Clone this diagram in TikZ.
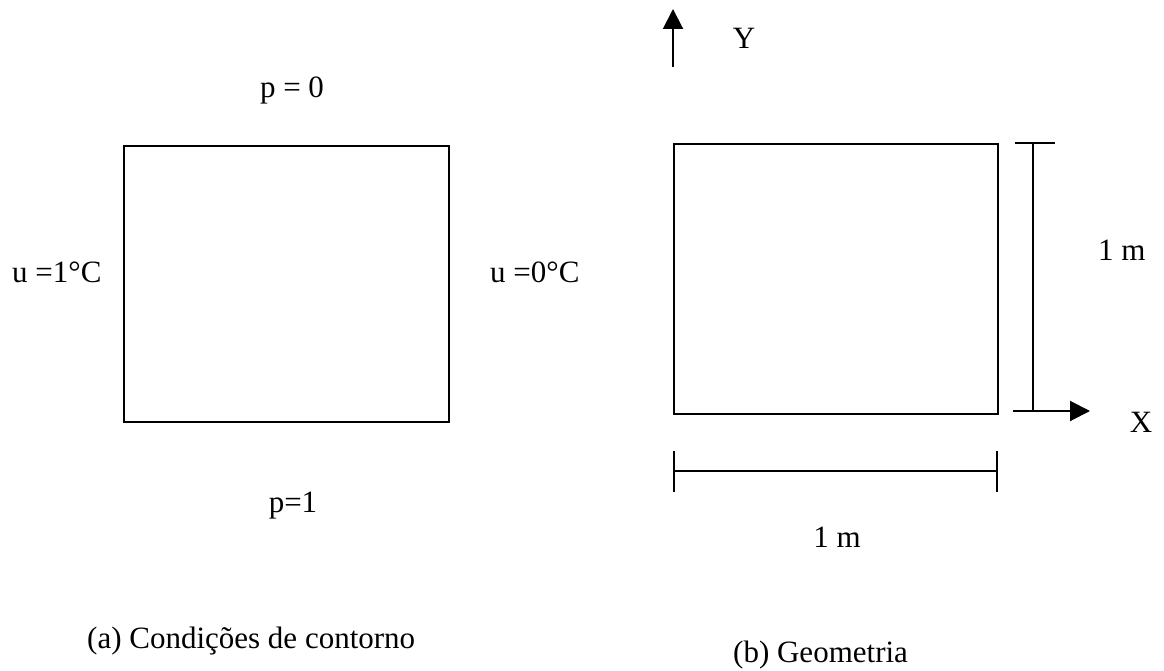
\documentclass[tikz,border=0pt]{standalone}
\usepackage{fontspec}
\setmainfont{Liberation Serif}
\usetikzlibrary{arrows.meta}
\begin{document}
\begin{tikzpicture}[x=1pt,y=-1pt,
  lbl/.style={inner sep=0pt, anchor=base, font=\fontsize{31}{36}\selectfont},
  lblw/.style={lbl, anchor=base west},
  boxshape/.style={draw, line width=2pt, inner sep=0pt, anchor=north west},
  thin line/.style={line width=2pt},
  axisarrow/.style={line width=2pt, -{Triangle[length=20pt,width=20pt]}}]
\useasboundingbox[fill=white] (0,0) rectangle (1164,671);

% (a) boundary conditions
\node[boxshape, minimum width=325pt, minimum height=276pt] (boxA) at (123,145) {};
\node[lbl] (ptop) at (292,98) {p = 0};
\node[lblw] (uleft) at (12,282) {u =1°C};
\node[lblw] (uright) at (490,282) {u =0°C};
\node[lbl] (pbot) at (293,512) {p=1};
\node[lblw] (capA) at (87,648) {(a) Condições de contorno};

% (b) geometry
\node[boxshape, minimum width=324pt, minimum height=270pt] (boxB) at (673,143) {};

\coordinate (ybase) at (673,67);
\coordinate (ytip) at (673,9);
\draw[axisarrow] (ybase) -- (ytip);
\node[lbl] (ylab) at (744,49) {Y};

\coordinate (vtop) at (1033,143);
\coordinate (vbot) at (1033,411);
\coordinate (ttl) at (1015,143);
\coordinate (ttr) at (1055,143);
\coordinate (xstart) at (1013,411);
\coordinate (xtip) at (1090,411);
\draw[thin line] (ttl) -- (ttr);
\draw[thin line] (vtop) -- (vbot);
\draw[axisarrow] (xstart) -- (xtip);
\node[lblw] (hlab) at (1098,260) {1 m};
\node[lbl] (xlab) at (1141,432) {X};

\coordinate (hl) at (674,471);
\coordinate (hr) at (997,471);
\coordinate (hlt) at (674,451);
\coordinate (hlb) at (674,492);
\coordinate (hrt) at (997,451);
\coordinate (hrb) at (997,492);
\draw[thin line] (hl) -- (hr);
\draw[thin line] (hlt) -- (hlb);
\draw[thin line] (hrt) -- (hrb);
\node[lbl] (wlab) at (837,547) {1 m};
\node[lblw] (capB) at (733,662) {(b) Geometria};
\end{tikzpicture}
\end{document}
